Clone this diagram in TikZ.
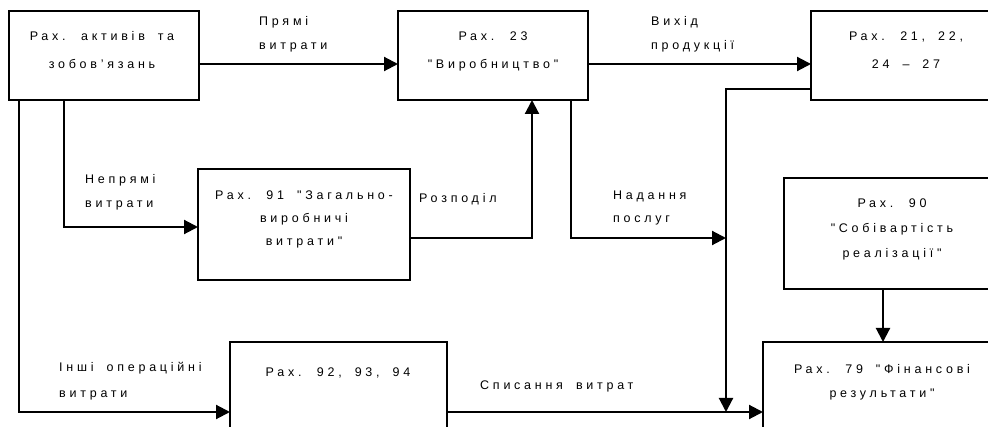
\documentclass[tikz,border=0pt]{standalone}
\usepackage{fontspec}
\setmainfont{Liberation Sans}
\newfontfamily\spfont{Liberation Sans}[LetterSpace=30, WordSpace=1.8]
\usetikzlibrary{arrows.meta}
\tikzset{
  boxnode/.style={draw, line width=2.3pt, inner sep=0pt, outer sep=0pt, anchor=north west},
  txt/.style={font=\spfont\fontsize{12.5}{14}\selectfont, inner sep=0pt, anchor=base},
  lbl/.style={txt, anchor=base west},
  conn/.style={line width=2.1pt, -{Triangle[length=14pt,width=14pt]}},
}
\begin{document}
\begin{tikzpicture}[x=1pt,y=-1pt]
\useasboundingbox (0,0) rectangle (988,427);
\clip (0,0) rectangle (988,427);
\fill[white] (0,0) rectangle (988,427);
% boxes
\node[boxnode, minimum width=190pt, minimum height=89pt] (b1) at (9,11) {};
\node[boxnode, minimum width=190pt, minimum height=89pt] (b2) at (398,11) {};
\node[boxnode, minimum width=190pt, minimum height=89pt] (b3) at (811,11) {};
\node[boxnode, minimum width=212pt, minimum height=111pt] (b91) at (198,169) {};
\node[boxnode, minimum width=216pt, minimum height=111pt] (b90) at (784,178) {};
\node[boxnode, minimum width=217pt, minimum height=110pt] (b92) at (230,342) {};
\node[boxnode, minimum width=238pt, minimum height=110pt] (b79) at (763,342) {};
% box texts
\node[txt] (t1a) at (102,41) {Рах. активів та};
\node[txt] (t1b) at (102,69) {зобов’язань};
\node[txt] (t2a) at (493,41) {Рах. 23};
\node[txt] (t2b) at (493,69) {"Виробництво"};
\node[txt] (t3a) at (906,41) {Рах. 21, 22,};
\node[txt] (t3b) at (906,69) {24 – 27};
\node[txt] (t4a) at (304,200) {Рах. 91 "Загально-};
\node[txt] (t4b) at (304,223) {виробничі};
\node[txt] (t4c) at (304,246) {витрати"};
\node[txt] (t5a) at (892,208) {Рах. 90};
\node[txt] (t5b) at (892,233) {"Собівартість};
\node[txt] (t5c) at (892,258) {реалізації"};
\node[txt] (t6a) at (338,377) {Рах. 92, 93, 94};
\node[txt] (t7a) at (882,374) {Рах. 79 "Фінансові};
\node[txt] (t7b) at (882,398) {результати"};
% connector labels
\node[lbl] (l1a) at (259,26) {Прямі};
\node[lbl] (l1b) at (259,50) {витрати};
\node[lbl] (l2a) at (651,26) {Вихід};
\node[lbl] (l2b) at (651,50) {продукції};
\node[lbl] (l3a) at (85,184) {Непрямі};
\node[lbl] (l3b) at (85,208) {витрати};
\node[lbl] (l4a) at (419,203) {Розподіл};
\node[lbl] (l5a) at (613,200) {Надання};
\node[lbl] (l5b) at (613,223) {послуг};
\node[lbl] (l6a) at (59,372) {Інші операційні};
\node[lbl] (l6b) at (59,398) {витрати};
\node[lbl] (l7a) at (480,390) {Списання витрат};
% junctions
\coordinate (j1) at (726,238);
\coordinate (j2) at (726,412);
% connectors
\draw[conn] (b1.east |- 0,64) -- (b2.west |- 0,64);
\draw[conn] (b2.east |- 0,64) -- (b3.west |- 0,64);
\draw[conn] (b1.south -| 64,0) |- (b91.west |- 0,227);
\draw[conn] (b1.south -| 19,0) |- (b92.west |- 0,412);
\draw[conn] (b91.east |- 0,238) -| (b2.south -| 532,0);
\draw[conn] (b2.south -| 571,0) |- (j1);
\draw[conn] (b3.west |- 0,89) -| (j2);
\draw[conn] (b92.east |- 0,412) -- (b79.west |- 0,412);
\draw[conn] (b90.south -| 883,0) -- (b79.north -| 883,0);
\end{tikzpicture}
\end{document}
